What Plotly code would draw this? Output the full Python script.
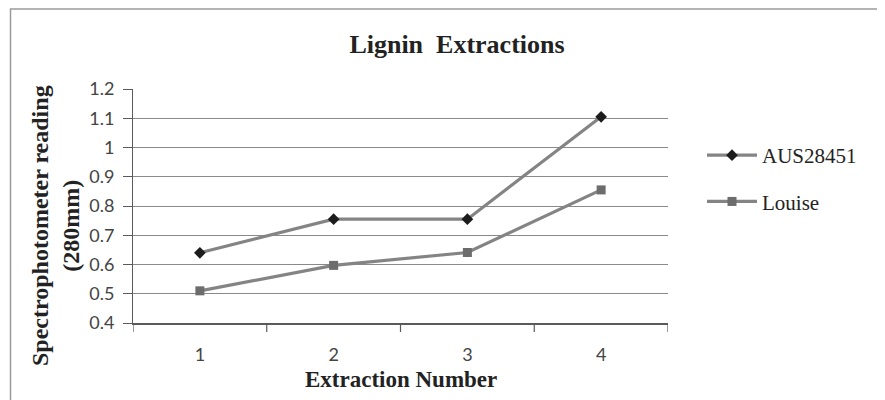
import plotly.graph_objects as go

categories = ["1", "2", "3", "4"]
aus_values = [0.64, 0.755, 0.755, 1.105]
louise_values = [0.51, 0.597, 0.641, 0.855]
y_ticks = [0.4, 0.5, 0.6, 0.7, 0.8, 0.9, 1.0, 1.1, 1.2]
y_tick_labels = ["0.4", "0.5", "0.6", "0.7", "0.8", "0.9", "1", "1.1", "1.2"]

serif = "Liberation Serif, Times New Roman, serif"
sans = "Lato, Open Sans, sans-serif"

W, H = 877, 392          # page body has an 8px margin
L, R, T, B = 125, 217, 81, 77
PW, PH = W - L - R, H - T - B

def px(xf):
    return (xf - L) / PW

def py(yf):
    return (H - B - yf) / PH

fig = go.Figure()
fig.add_trace(go.Scatter(
    x=categories, y=aus_values, name="AUS28451", mode="lines+markers",
    legendgroup="a",
    line=dict(color="#848484", width=3.2),
    marker=dict(symbol="diamond", size=9, color="#1c1c1c"),
))
fig.add_trace(go.Scatter(
    x=categories, y=louise_values, name="Louise", mode="lines+markers",
    legendgroup="b",
    line=dict(color="#848484", width=3.2),
    marker=dict(symbol="square", size=9, color="#6c6c6c"),
))

fig.update_layout(
    width=W, height=H,
    margin=dict(l=L, r=R, t=T, b=B),
    paper_bgcolor="white", plot_bgcolor="white",
    title=dict(text="<b>Lignin  Extractions</b>", xref="container", x=449 / W,
               xanchor="center", yref="container", y=1 - 36 / H, yanchor="middle",
               font=dict(family=serif, size=26, color="#222")),
    showlegend=True,
    legend=dict(x=px(694), y=py(170.5), xanchor="left", yanchor="middle",
                font=dict(family=serif, size=21, color="#222"),
                tracegroupgap=16, itemwidth=50, bgcolor="rgba(0,0,0,0)"),
    xaxis=dict(
        type="category", range=[-0.5, 3.5], showgrid=False, zeroline=False,
        showline=True, linecolor="#5a5a5a", linewidth=1.5,
        tickfont=dict(family=sans, size=18, color="#444"),
        ticks="", ticklabelstandoff=15, fixedrange=True,
    ),
    yaxis=dict(
        range=[0.4, 1.2], tickmode="array", tickvals=y_ticks,
        ticktext=y_tick_labels, showgrid=True, gridcolor="#8a8a8a", gridwidth=1,
        zeroline=False, showline=True, linecolor="#5a5a5a", linewidth=1,
        ticks="outside", ticklen=9, tickcolor="#5a5a5a",
        tickfont=dict(family=sans, size=18, color="#444"),
        ticklabelstandoff=5, fixedrange=True,
    ),
    annotations=[
        dict(text="<b>Spectrophotometer reading<br>(280mm)</b>", textangle=-90,
             xref="paper", yref="paper", x=px(48), y=py(218),
             xanchor="center", yanchor="middle", showarrow=False,
             font=dict(family=serif, size=24, color="#222")),
        dict(text="<b>Extraction Number</b>",
             xref="paper", yref="paper", x=px(393), y=py(371),
             xanchor="center", yanchor="middle", showarrow=False,
             font=dict(family=serif, size=23, color="#222")),
    ],
)

# category boundary tick marks on x axis
for b in [-0.5, 0.5, 1.5, 2.5, 3.5]:
    fig.add_shape(type="line", xref="x", yref="paper", x0=b, x1=b,
                  y0=0, y1=-9 / PH, line=dict(color="#5a5a5a", width=1.2))

# outer frame (only top and left edges fall inside the picture)
fig.add_shape(type="rect", xref="paper", yref="paper",
              x0=px(2.5), x1=px(W + 50), y0=py(H + 50), y1=py(1),
              line=dict(color="#9a9a9a", width=1.5), layer="below")

fig.write_html("out.html")
